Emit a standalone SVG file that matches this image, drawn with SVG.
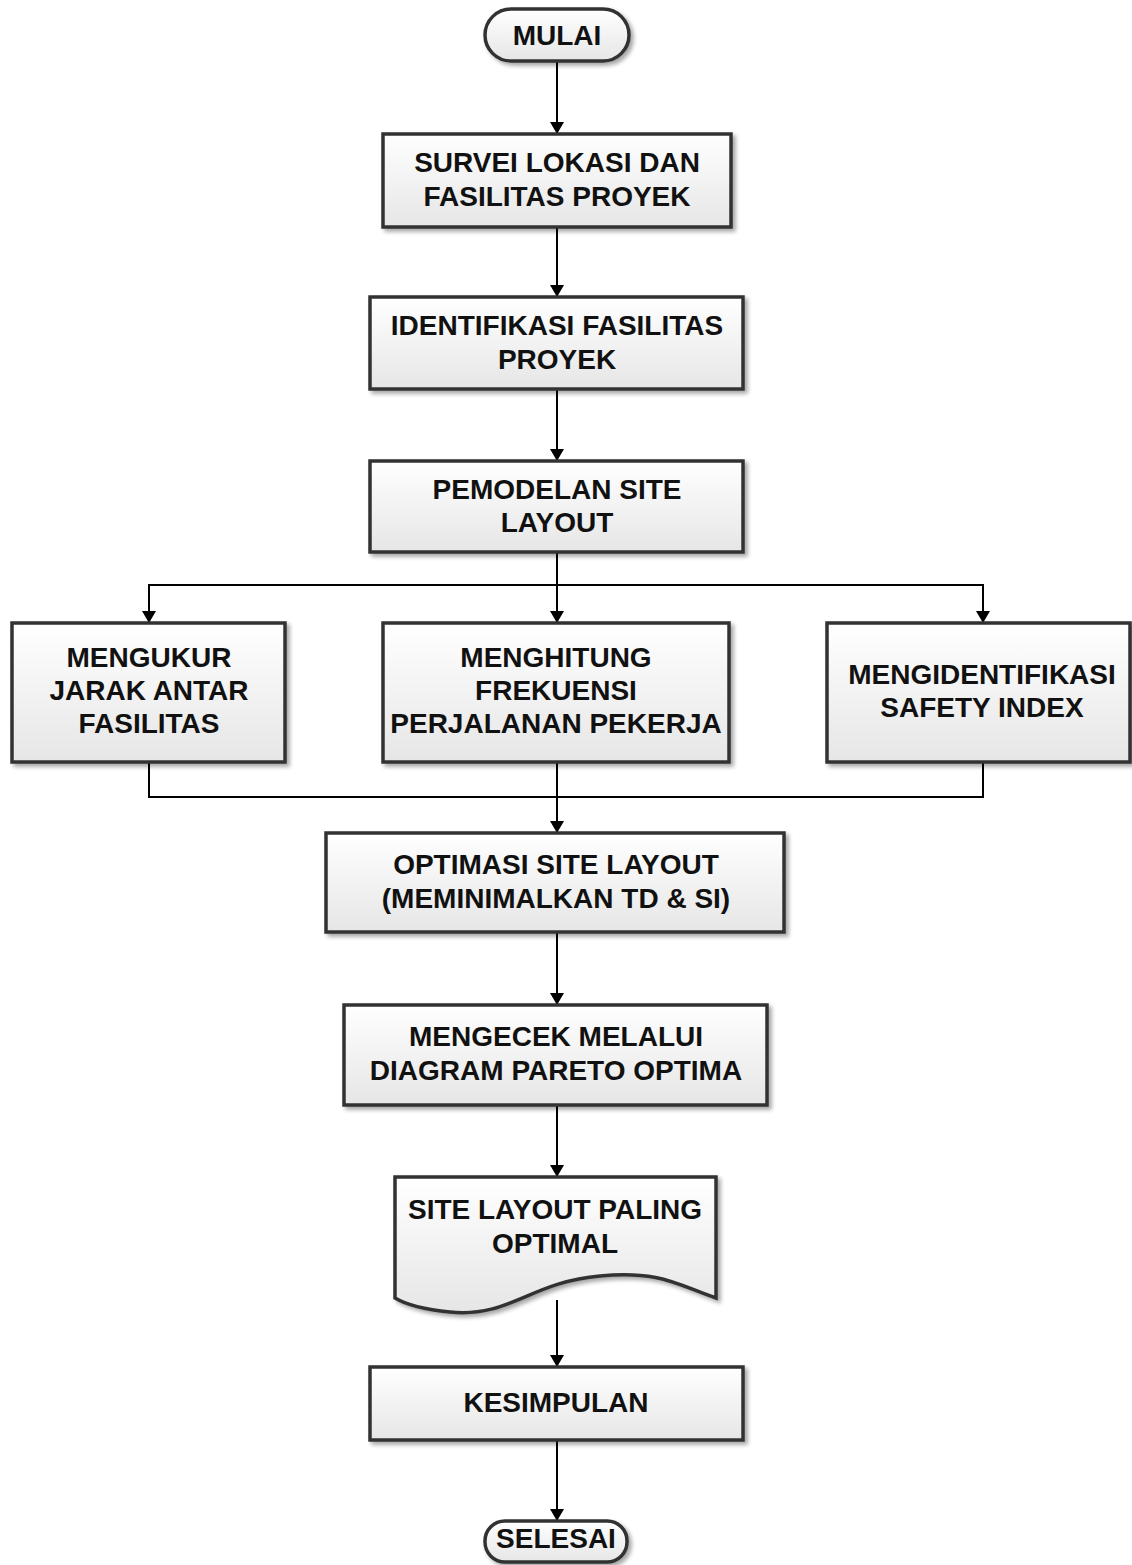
<svg xmlns="http://www.w3.org/2000/svg" width="1132" height="1565" viewBox="0 0 1132 1565">
<defs>
<linearGradient id="g" x1="0" y1="0" x2="0" y2="1">
<stop offset="0" stop-color="#ffffff"/>
<stop offset="1" stop-color="#e6e6e6"/>
</linearGradient>
<filter id="sh" x="-10%" y="-10%" width="125%" height="130%">
<feGaussianBlur in="SourceAlpha" stdDeviation="2"/>
<feOffset dx="3" dy="3" result="b"/>
<feComponentTransfer><feFuncA type="linear" slope="0.35"/></feComponentTransfer>
<feMerge><feMergeNode/><feMergeNode in="SourceGraphic"/></feMerge>
</filter>
<marker id="ah" viewBox="0 0 12 14" refX="12" refY="7" markerWidth="12" markerHeight="14" markerUnits="userSpaceOnUse" orient="auto">
<path d="M0,0 L12,7 L0,14 z" fill="#000"/>
</marker>
</defs>
<style>
.n{fill:url(#g);stroke:#333;stroke-width:3.5;filter:url(#sh)}
.t{font-family:"Liberation Sans",Arial,sans-serif;font-weight:bold;font-size:28px;fill:#111;text-anchor:middle}
.c{fill:none;stroke:#000;stroke-width:2}
</style>
<rect width="1132" height="1565" fill="#fff"/>
<g id="connectors">
<line class="c" x1="557" y1="62" x2="557" y2="134" marker-end="url(#ah)"/>
<line class="c" x1="557" y1="227" x2="557" y2="297" marker-end="url(#ah)"/>
<line class="c" x1="557" y1="389" x2="557" y2="461" marker-end="url(#ah)"/>
<line class="c" x1="557" y1="552" x2="557" y2="623" marker-end="url(#ah)"/>
<polyline class="c" points="149,600 149,585 983,585 983,600"/>
<line class="c" x1="149" y1="585" x2="149" y2="623" marker-end="url(#ah)"/>
<line class="c" x1="983" y1="585" x2="983" y2="623" marker-end="url(#ah)"/>
<polyline class="c" points="149,762 149,797 983,797 983,762"/>
<line class="c" x1="557" y1="762" x2="557" y2="833" marker-end="url(#ah)"/>
<line class="c" x1="557" y1="932" x2="557" y2="1005" marker-end="url(#ah)"/>
<line class="c" x1="557" y1="1105" x2="557" y2="1177" marker-end="url(#ah)"/>
<line class="c" x1="557" y1="1300" x2="557" y2="1367" marker-end="url(#ah)"/>
<line class="c" x1="557" y1="1440" x2="557" y2="1521" marker-end="url(#ah)"/>
</g>
<g id="mulai">
<rect class="n" x="485" y="9" width="144" height="52" rx="26"/>
<text class="t" x="557" y="45">MULAI</text>
</g>
<g id="survei">
<rect class="n" x="383" y="134" width="348" height="93"/>
<text class="t" x="557" y="172">SURVEI LOKASI DAN</text>
<text class="t" x="557" y="206">FASILITAS PROYEK</text>
</g>
<g id="identifikasi">
<rect class="n" x="370" y="297" width="373" height="92"/>
<text class="t" x="557" y="335">IDENTIFIKASI FASILITAS</text>
<text class="t" x="557" y="369">PROYEK</text>
</g>
<g id="pemodelan">
<rect class="n" x="370" y="461" width="373" height="91"/>
<text class="t" x="557" y="499">PEMODELAN SITE</text>
<text class="t" x="557" y="532">LAYOUT</text>
</g>
<g id="mengukur">
<rect class="n" x="12" y="623" width="273" height="139"/>
<text class="t" x="149" y="667">MENGUKUR</text>
<text class="t" x="149" y="700">JARAK ANTAR</text>
<text class="t" x="149" y="733">FASILITAS</text>
</g>
<g id="menghitung">
<rect class="n" x="383" y="623" width="346" height="139"/>
<text class="t" x="556" y="667">MENGHITUNG</text>
<text class="t" x="556" y="700">FREKUENSI</text>
<text class="t" x="556" y="733">PERJALANAN PEKERJA</text>
</g>
<g id="mengidentifikasi">
<rect class="n" x="827" y="623" width="303" height="139"/>
<text class="t" x="982" y="684">MENGIDENTIFIKASI</text>
<text class="t" x="982" y="717">SAFETY INDEX</text>
</g>
<g id="optimasi">
<rect class="n" x="326" y="833" width="458" height="99"/>
<text class="t" x="556" y="874">OPTIMASI SITE LAYOUT</text>
<text class="t" x="556" y="908">(MEMINIMALKAN TD &amp; SI)</text>
</g>
<g id="mengecek">
<rect class="n" x="344" y="1005" width="423" height="100"/>
<text class="t" x="556" y="1046">MENGECEK MELALUI</text>
<text class="t" x="556" y="1080">DIAGRAM PARETO OPTIMA</text>
</g>
<g id="site-layout">
<path class="n" d="M395,1177 L716,1177 L716,1298 C680,1286 660,1270 600,1276 C530,1282 510,1318 450,1312 C420,1309 405,1304 395,1298 Z"/>
<text class="t" x="555" y="1219">SITE LAYOUT PALING</text>
<text class="t" x="555" y="1253">OPTIMAL</text>
</g>
<g id="kesimpulan">
<rect class="n" x="370" y="1367" width="373" height="73"/>
<text class="t" x="556" y="1412">KESIMPULAN</text>
</g>
<g id="selesai">
<rect class="n" x="485" y="1521" width="142" height="41" rx="20"/>
<text class="t" x="556" y="1548">SELESAI</text>
</g>
</svg>
